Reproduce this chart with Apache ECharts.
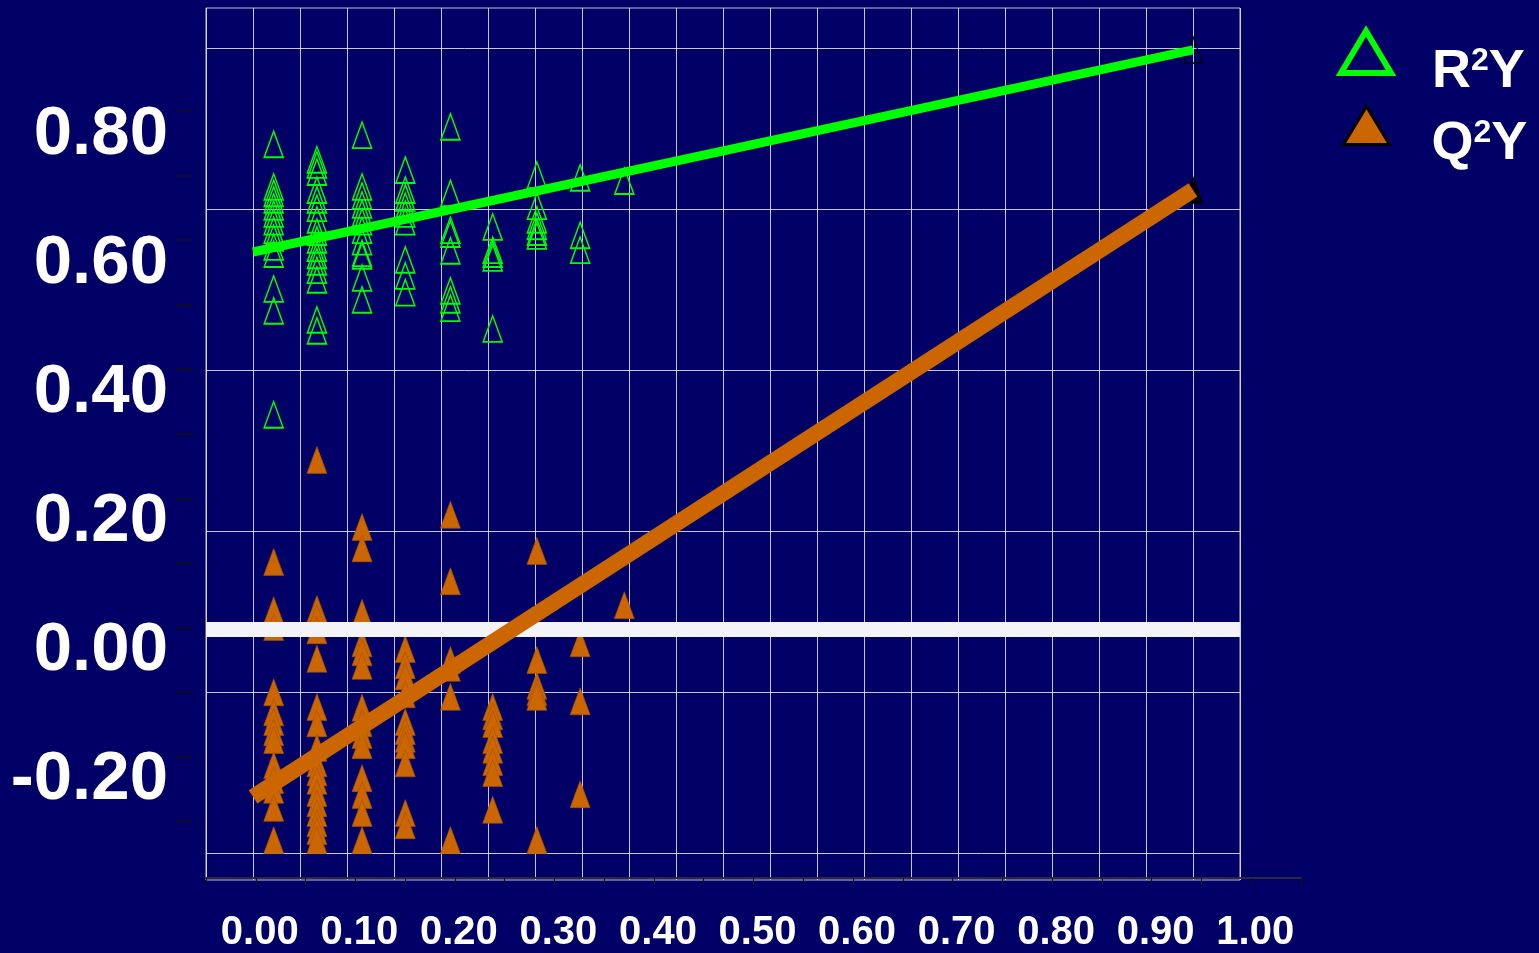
<!DOCTYPE html>
<html>
<head>
<meta charset="utf-8">
<script src="https://cdn.jsdelivr.net/npm/echarts@6/dist/echarts.min.js"></script>
<style>
html,body{margin:0;padding:0;background:#000066;}
#chart{width:1539px;height:953px;}
</style>
</head>
<body>
<div id="chart"></div>
<script>
// ---- data (permutation test: correlation of permuted Y vs original Y) ----
const corr = [0.022, 0.068, 0.116, 0.162, 0.210, 0.255, 0.302, 0.348, 0.395];

const r2Vals = [
  [0.751, 0.685, 0.675, 0.665, 0.654, 0.643, 0.631, 0.618, 0.606, 0.592, 0.581, 0.527, 0.493, 0.332],
  [0.727, 0.719, 0.708, 0.680, 0.665, 0.652, 0.634, 0.615, 0.603, 0.590, 0.579, 0.569, 0.556, 0.541, 0.479, 0.462],
  [0.765, 0.685, 0.671, 0.657, 0.644, 0.631, 0.618, 0.600, 0.582, 0.578, 0.544, 0.510],
  [0.711, 0.680, 0.668, 0.655, 0.643, 0.631, 0.572, 0.547, 0.521],
  [0.778, 0.675, 0.618, 0.612, 0.586, 0.524, 0.510, 0.497],
  [0.623, 0.587, 0.581, 0.575, 0.465],
  [0.703, 0.655, 0.634, 0.624, 0.615, 0.609],
  [0.699, 0.610, 0.587],
  [0.694]
];

const q2Vals = [
  [0.104, 0.029, 0.003, -0.098, -0.129, -0.144, -0.160, -0.172, -0.211, -0.234, -0.249, -0.277, -0.327],
  [0.262, 0.031, 0.017, -0.002, -0.046, -0.121, -0.146, -0.184, -0.208, -0.222, -0.235, -0.254, -0.270, -0.285, -0.301, -0.313, -0.327],
  [0.158, 0.125, 0.025, -0.022, -0.036, -0.057, -0.122, -0.146, -0.164, -0.180, -0.231, -0.257, -0.285, -0.327],
  [-0.031, -0.056, -0.073, -0.101, -0.144, -0.158, -0.170, -0.180, -0.208, -0.285, -0.304],
  [0.177, 0.074, -0.048, -0.060, -0.105, -0.327],
  [-0.121, -0.135, -0.147, -0.172, -0.187, -0.206, -0.223, -0.280],
  [0.121, -0.048, -0.088, -0.098, -0.105, -0.327],
  [-0.022, -0.112, -0.256],
  [0.037]
];

// original model (correlation = 1) and regression intercepts
const origCorr = 1.0;
const r2Original = 0.897;
const q2Original = 0.680;
const r2Intercept = 0.584;
const q2Intercept = -0.260;

const seriesNames = ['R²Y', 'Q²Y'];
const xTickValues = [0, 0.1, 0.2, 0.3, 0.4, 0.5, 0.6, 0.7, 0.8, 0.9, 1.0];
const xTickLabels = ['0.00','0.10','0.20','0.30','0.40','0.50','0.60','0.70','0.80','0.90','1.00'];
const yTickValues = [-0.2, 0, 0.2, 0.4, 0.6, 0.8];
const yTickLabels = ['-0.20','0.00','0.20','0.40','0.60','0.80'];

// ---- build ----
function pick(values, labels, v) {
  for (let i = 0; i < values.length; i++) {
    if (Math.abs(values[i] - v) < 1e-6) return labels[i];
  }
  return '';
}
function points(vals) {
  const out = [];
  vals.forEach((col, i) => col.forEach(v => out.push([corr[i], v])));
  return out;
}
const r2Data = points(r2Vals);
r2Data.push({ value: [origCorr, r2Original], itemStyle: { borderColor: '#000000', borderWidth: 1.3 } });
const q2Data = points(q2Vals);
q2Data.push({ value: [origCorr, q2Original], itemStyle: { color: '#000000', borderColor: '#000000' } });

const FONT = '"Liberation Sans", Arial, sans-serif';
const gridCol = 'rgba(232,232,245,0.85)';

const chart = echarts.init(document.getElementById('chart'), null, { renderer: 'canvas' });
const legendText = {
  color: '#ffffff',
  fontFamily: FONT,
  fontWeight: 'bold',
  rich: {
    m: { fontSize: 54, fontWeight: 'bold', fontFamily: FONT, color: '#ffffff',
         textShadowColor: '#000', textShadowOffsetX: 3, textShadowOffsetY: 3 },
    s: { fontSize: 32, fontWeight: 'bold', fontFamily: FONT, color: '#ffffff', verticalAlign: 'top',
         textShadowColor: '#000', textShadowOffsetX: 2, textShadowOffsetY: 2 }
  }
};
function legendFormatter(name) {
  return '{m|' + name.charAt(0) + '}{s|2}{m|' + name.charAt(2) + '}';
}

chart.setOption({
  backgroundColor: '#000066',
  animation: false,
  grid: [
    { left: 206, top: 8, width: 1034, height: 872, show: true, borderColor: gridCol, borderWidth: 1, backgroundColor: 'transparent' },
    { left: 206, top: 48, width: 1034, height: 805 },
    { left: 193, top: 111, width: 10, height: 710 },
    { left: 206, top: 800, width: 1095, height: 80 },
    { left: 193, top: 135, width: 10, height: 710 }
  ],
  xAxis: [
    { gridIndex: 0, type: 'value', min: -0.05, max: 1.05, interval: 0.05,
      axisLine: { show: false }, axisTick: { show: false }, axisLabel: { show: false },
      splitLine: { show: true, lineStyle: { color: gridCol, width: 1 } } },
    { gridIndex: 1, type: 'value', min: 0, max: 1, show: false },
    { gridIndex: 2, type: 'value', min: 0, max: 1, show: false },
    { gridIndex: 3, type: 'value', min: -0.05, max: 1.05, interval: 0.05,
      axisLine: { show: true, lineStyle: { color: '#2a2a3a', width: 2 } },
      axisTick: { show: true, length: 7, lineStyle: { color: '#111', width: 1 } },
      splitLine: { show: false },
      axisLabel: { show: true, margin: 35, color: '#ffffff', fontSize: 40, fontWeight: 'bold', fontFamily: FONT,
        padding: [0, 0, 0, 8],
        textShadowColor: '#000', textShadowOffsetX: 3, textShadowOffsetY: 3,
        formatter: v => pick(xTickValues, xTickLabels, v) } },
    { gridIndex: 4, type: 'value', min: 0, max: 1, show: false }
  ],
  yAxis: [
    { gridIndex: 0, type: 'value', min: -0.3888, max: 0.9620,
      axisLine: { show: false }, axisTick: { show: false }, axisLabel: { show: false }, splitLine: { show: false } },
    { gridIndex: 1, type: 'value', min: 0, max: 5, interval: 1,
      axisLine: { show: false }, axisTick: { show: false }, axisLabel: { show: false },
      splitLine: { show: true, lineStyle: { color: gridCol, width: 1 } } },
    { gridIndex: 2, type: 'value', min: -0.3, max: 0.8, interval: 0.1,
      axisLine: { show: false },
      axisTick: { show: true, length: 16, lineStyle: { color: '#111', width: 1.5 } },
      splitLine: { show: false }, axisLabel: { show: false } },
    { gridIndex: 3, type: 'value', min: 0, max: 1, show: false },
    { gridIndex: 4, type: 'value', min: -0.3, max: 0.8, interval: 0.1,
      axisLine: { show: false }, axisTick: { show: false }, splitLine: { show: false },
      axisLabel: { show: true, margin: 25, color: '#ffffff', fontSize: 69, fontWeight: 'bold', fontFamily: FONT,
        padding: [42, 0, 0, 0],
        textShadowColor: '#000', textShadowOffsetX: 3, textShadowOffsetY: 3,
        formatter: v => pick(yTickValues, yTickLabels, v) } }
  ],
  legend: [
    { data: [{ name: seriesNames[0], icon: 'triangle',
               itemStyle: { color: 'rgba(0,0,0,0)', borderColor: '#00ff00', borderWidth: 6 } }],
      left: 1333, top: 23, itemWidth: 50, itemHeight: 42, selectedMode: false,
      textStyle: Object.assign({ padding: [40, 0, 0, 36] }, legendText), formatter: legendFormatter },
    { data: [{ name: seriesNames[1], icon: 'triangle',
               itemStyle: { color: '#cc6600', borderColor: '#000000', borderWidth: 3 } }],
      left: 1337, top: 100, itemWidth: 46, itemHeight: 38, selectedMode: false,
      textStyle: Object.assign({ padding: [37, 0, 0, 37] }, legendText), formatter: legendFormatter }
  ],
  series: [
    { name: 'zero', type: 'line', xAxisIndex: 0, yAxisIndex: 0, data: [], z: 1, silent: true,
      markLine: { silent: true, symbol: 'none', label: { show: false },
        lineStyle: { color: '#f4f4f8', width: 15, type: 'solid' },
        data: [{ yAxis: 0 }] } },
    { name: seriesNames[0], type: 'scatter', xAxisIndex: 0, yAxisIndex: 0, z: 3,
      symbol: 'triangle', symbolSize: [19, 26],
      itemStyle: { color: 'rgba(0,0,0,0)', borderColor: '#00ff00', borderWidth: 1.6, opacity: 1 },
      data: r2Data },
    { name: seriesNames[1], type: 'scatter', xAxisIndex: 0, yAxisIndex: 0, z: 3,
      symbol: 'triangle', symbolSize: [20, 27],
      itemStyle: { color: '#cc6600', borderColor: '#a65300', borderWidth: 0.6, opacity: 1 },
      data: q2Data },
    { name: 'R2 fit', type: 'line', xAxisIndex: 0, yAxisIndex: 0, z: 5, symbol: 'none', silent: true,
      lineStyle: { color: '#00ff00', width: 9, cap: 'butt' },
      data: [[0, r2Intercept], [origCorr, r2Original]] },
    { name: 'Q2 fit', type: 'line', xAxisIndex: 0, yAxisIndex: 0, z: 5, symbol: 'none', silent: true,
      lineStyle: { color: '#cc6600', width: 16, cap: 'butt' },
      data: [[0, q2Intercept], [origCorr, q2Original]] }
  ]
});
</script>
</body>
</html>
